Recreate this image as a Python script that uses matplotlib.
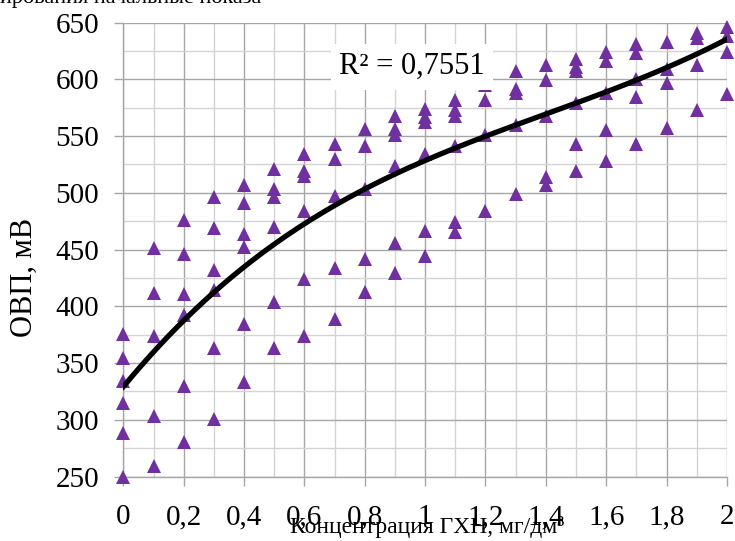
#!/usr/bin/python
# encoding:utf-8
"""
Зависимость ОВП от концентрации ГХН, точки и полиномиальный тренд
"""

import numpy as np
import matplotlib.pyplot as plt
from matplotlib import rcParams
from matplotlib.ticker import MultipleLocator

SERIF = 'Liberation Serif'
rcParams['font.family'] = 'serif'
rcParams['font.serif'] = [SERIF, 'DejaVu Serif']

# концентрация ГХН, мг/дм3
conc = [0.0] * 6 + [0.1] * 5 + [0.2] * 6 + [0.3] * 6 + [0.4] * 6 + [0.5] * 6 + \
       [0.6] * 6 + [0.7] * 5 + [0.8] * 5 + [0.9] * 6 + [1.0] * 6 + [1.1] * 6 + \
       [1.2] * 4 + [1.3] * 5 + [1.4] * 5 + [1.5] * 6 + [1.6] * 5 + [1.7] * 5 + \
       [1.8] * 4 + [1.9] * 4 + [2.0] * 4
# ОВП, мВ
ovp = [376, 354, 334, 315, 288, 250,
       451, 412, 374, 303, 259,
       476, 446, 411, 392, 330, 280,
       496, 469, 432, 414, 363, 301,
       507, 491, 464, 452, 384, 333,
       521, 503, 496, 470, 404, 363,
       534, 519, 515, 484, 424, 374,
       543, 530, 497, 434, 389,
       556, 541, 503, 442, 413,
       568, 556, 551, 524, 456, 429,
       574, 567, 562, 534, 466, 444,
       582, 573, 568, 541, 474, 465,
       595, 582, 551, 484,
       607, 591, 588, 560, 499,
       613, 599, 568, 514, 507,
       618, 611, 607, 579, 543, 519,
       624, 616, 588, 555, 528,
       631, 623, 600, 584, 543,
       633, 609, 597, 557,
       641, 636, 613, 573,
       646, 638, 624, 587]

# линия тренда, значения
trend_x = [0.0, 0.2, 0.4, 0.6, 0.8, 1.0, 1.2, 1.4, 1.6, 1.8, 2.0]
trend_y = [328, 390, 435, 469, 503, 531, 550, 569, 589, 609, 636]

r2_label = u'R² = 0,7551'
x_label = u'Концентрация ГХН, мг/дм³'
y_label = u'ОВП, мВ'
top_text = u'ирования начальные показа'


def draw(x, y):
    fig = plt.figure(figsize=(7.35, 5.41), dpi=100)
    ax = fig.add_axes([0.1678, 0.1192, 0.8212, 0.8392])

    # полиномиальный тренд (сглаживание снятых точек)
    coef = np.polyfit(trend_x, trend_y, 3)
    xt = np.linspace(0, 2, 200)
    ax.plot(xt, np.polyval(coef, xt), color='black', linewidth=3.8, zorder=4)
    ax.plot(x, y, linestyle='none', marker='^', markersize=9.5,
            color='#7030A0', markeredgewidth=0, clip_on=False, zorder=3)

    ax.set_xlim(0, 2)
    ax.set_ylim(250, 650)
    ax.xaxis.set_major_locator(MultipleLocator(0.2))
    ax.xaxis.set_minor_locator(MultipleLocator(0.1))
    ax.yaxis.set_major_locator(MultipleLocator(50))
    ax.yaxis.set_minor_locator(MultipleLocator(25))
    ax.xaxis.set_major_formatter(plt.FuncFormatter(
        lambda v, p: ('%g' % round(v, 1)).replace('.', ',')))

    ax.grid(which='major', color='#a6a6a6', linewidth=1.0)
    ax.grid(which='minor', color='#d4d4d4', linewidth=1.0)
    ax.set_axisbelow(True)
    for s in ['top', 'right']:
        ax.spines[s].set_visible(False)
    for s in ['left', 'bottom']:
        ax.spines[s].set_color('#a6a6a6')
        ax.spines[s].set_linewidth(1.0)
    ax.tick_params(which='major', length=6.5, width=1.0, color='#a6a6a6',
                   labelsize=21)
    ax.tick_params(axis='x', which='major', pad=13.5)
    ax.tick_params(axis='y', which='major', pad=11)
    ax.tick_params(which='minor', length=0)
    for lbl in ax.get_xticklabels() + ax.get_yticklabels():
        lbl.set_fontfamily(SERIF)

    ax.text(0.956, 611, r2_label, fontsize=22, ha='center', va='center',
            family=SERIF, zorder=5,
            bbox=dict(facecolor='white', edgecolor='none', pad=6))

    fig.text(0.033, 0.488, y_label, fontsize=22, rotation=90, family=SERIF,
             ha='center', va='center')
    fig.text(0.581, 0.006, x_label, fontsize=17, family=SERIF,
             ha='center', va='bottom')
    fig.text(0.0, 1.0 - 3 / 541., top_text, fontsize=16, family=SERIF,
             ha='left', va='baseline')

    fig.savefig('out.png', dpi=100)


def main():
    draw(np.array(conc), np.array(ovp))


if __name__ == '__main__':
    main()
